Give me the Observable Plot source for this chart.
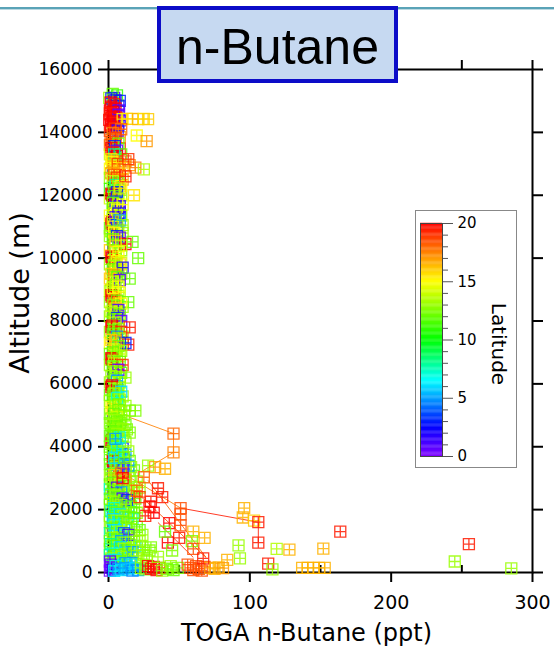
<!DOCTYPE html>
<html><head><meta charset="utf-8">
<script src="https://cdn.jsdelivr.net/npm/d3@7"></script>
<script src="https://cdn.jsdelivr.net/npm/@observablehq/plot@0.6"></script>
<style>
body{margin:0;background:#fff;}
#wrap{position:relative;width:554px;height:650px;overflow:hidden;background:#fff;}
#topline{position:absolute;left:0;top:7px;width:554px;height:2px;background:#5aa3b7;border-bottom:1px solid #bcd9e2;}
#title{position:absolute;left:157px;top:6px;width:241px;height:77px;box-sizing:border-box;border:4px solid #0c0cc8;background:#c6d9f1;font-family:"Liberation Sans",Arial,sans-serif;font-size:50px;text-align:center;line-height:75px;color:#000;white-space:nowrap;}
#legend{position:absolute;left:415px;top:210px;width:100px;height:256px;border:1px solid #888;background:#fff;}
#legend svg,#main svg{display:block;}
</style></head>
<body>
<div id="wrap">
  <div id="main"></div>
  <div id="topline"></div>
  <div id="title">n-Butane</div>
  <div id="legend"></div>
</div>
<script>
// ---- tick labels / texts ----
const titleText = "n-Butane";
const xLabel = "TOGA n-Butane (ppt)";
const yLabel = "Altitude (m)";
const legendLabel = "Latitude";
const xTicks = [0, 100, 200, 300];
const xMinorTicks = [50, 150, 250];
const xTopTicks = [0, 50, 100, 150, 200, 250, 300];
const yTicks = [0, 2000, 4000, 6000, 8000, 10000, 12000, 14000, 16000];
const latTicks = [0, 5, 10, 15, 20];
const latMinorTicks = [1,2,3,4,6,7,8,9,11,12,13,14,16,17,18,19];

// ---- data: [n-Butane ppt, altitude m, latitude deg] ----
const columnHigh = [
 [3,15220,12],[6,15180,11],[2,15080,3],[5,15020,2],[8,15000,3],
 [1.5,14950,20],[4,14900,19.5],[2,14820,20],[5,14760,20],[7.5,14700,0.8],[3,14650,20],[1,14600,19.5],[7,14560,0.5],[4,14500,20],[2,14460,19.8],[8,14380,1],[3,14350,20],[5,14300,19.5],[1.5,14250,20],
 [10,14420,15],[13,14430,15.5],[17,14430,16],[21,14420,16.5],[25,14430,15.5],[28,14420,16],[20,13900,15],[27,13720,17],
 [2,14180,20],[4.5,14120,19],[6.5,14060,1.5],[9,14100,18],[3,13980,17.5],[1.5,13760,18],[2.5,13700,18.5],[5,13820,19],[7,13640,12],[4.5,13560,3],
 [2,13500,20],[6,13420,0.5],[3,13360,19.5],[9,13300,12],[6,13250,20],[4,13300,8],
 [2,13150,15.5],[3,13100,16],[2.5,13050,15],[6.5,13000,19],[12,13080,18],[15,12960,17],[19,12880,17.5],[25,12820,13.5],[10,12860,16],[14,13150,19],
 [2,12700,17],[4,12650,18],[6,12560,19],[10,12500,17],[3,12450,14],[7,12400,12],[5,12330,8],[9,12300,15],[12,12600,19.5],
 [2,12050,20],[2.5,12000,20],[6,12100,3],[4,12150,12],[8,12220,16],[18,12000,15.5],[7,11900,13],[5,11800,3],[3,11760,12],[8,11650,1],[4,11600,14],[6,11540,15],[10,11700,15],
 [2,11100,20],[2.5,11150,20],[5,11300,0.5],[7,11420,2],[9,11350,13],[3,11250,14],[6,11050,3],[4,11000,15],[8,11200,5],[10,11050,13],
 [2,10850,13],[4,10800,15],[6,10700,3],[8,10650,0.5],[12,10450,20],[17,10520,12],[21,10000,12],[3,10600,12],[5,10550,16],[9,10400,14],
 [2,10050,20],[2.5,10000,20],[5,10150,13],[7,10200,15],[6,9900,15],[8,9800,16],[4,9750,13],[3,9650,12],[9,9850,14],[10,9700,2],
 [2,9500,16],[4,9450,17],[6,9400,12],[15,9350,12],[8,9300,1],[3,9250,14],[5,9150,13],[7,9100,15]
];
const columnHighFill = [
 [0.5,15100,13],[4,15100,1],[7,14850,2],[1,14700,20],[3,14550,20],[6,14450,19],[0.5,14400,20],[4,14250,20],[7,14200,2],[1,14050,19],
 [5,13950,18],[8,13850,17],[1,13600,18],[3,13450,20],[8,13480,19],[1,13300,14],[5,13150,12],[7,12800,16],[1,12850,15],[4,12900,17.5],
 [1,12550,13],[8,12650,18],[3,12250,7],[1,12200,11],[6,12000,5],[9,12000,13],[1,11900,14],[3,11500,13],[8,11450,3],[1,11350,15],
 [5,11150,12],[1,10950,12],[7,10900,14],[10,10800,13],[1,10700,13],[4,10400,13],[7,10500,12],[1,10250,16],[9,10250,13],[4,9950,15],
 [1,9800,13],[7,9600,13],[1,9350,16],[5,9650,16],[9,9500,13],[3,9050,15]
];
const columnMid = [
 [2,9000,13],[5,8950,16],[8,8900,14],[2,8820,20],[2.5,8780,20],[4,8700,17],[6,8650,12],[14,8600,12],[9,8550,15],[3,8500,13],
 [5,8400,16],[7,8350,1],[2,8300,14],[4,8250,13],[8,8200,12],[6,8100,3],[3,8050,12],[9,8000,0.5],[5,7950,14],
 [2,7800,20],[2.5,7850,20],[15,7800,19.5],[7,7750,13],[4,7700,12],[9,7650,19],[3,7600,12],[6,7500,5],[8,7450,13],
 [14,7250,19.5],[12,7300,3],[5,7350,17],[2,7400,16],[7,7200,12],[4,7100,14],[9,7050,13],[3,7000,12],
 [2,6820,20],[2.5,6780,20],[6,6900,13],[8,6700,12],[4,6650,14],[10,6600,19],[3,6550,12],[7,6450,0.5],[5,6400,13],[9,6350,12],
 [12,6200,13],[2,6250,13],[4,6150,12],[6,6100,5],[8,6050,13],
 [2,5900,20],[2.5,5950,20],[5,5850,13],[7,5800,12],[9,5750,6],[4,5700,13],[3,5600,12],[6,5550,7],[8,5500,13],
 [2,5250,15],[3,5200,15.5],[5,5300,13],[7,5350,12],[15,5150,12.5],[19,5150,12.5],[9,5100,13],[4,5050,12],[6,4950,14],[11,5000,12.5],
 [2,4900,12.5],[4,4850,13],[6,4800,12],[8,4750,12.5],[3,4700,13],[5,4650,12],[7,4600,12.5],[10,4550,13],[2,4500,12],[4,4450,12.5],[15,4450,12.5],[6,4400,13],[8,4300,7],[3,4350,12],[5,4250,5]
];
const columnMidFill = [
 [1,8950,14],[7,8800,13],[1,8600,13],[5,8550,16],[10,8450,13],[1,8150,13],[7,8050,14],[4,7900,13],[1,7650,13],[6,7650,14],
 [10,7500,13],[1,7300,15],[5,7150,16],[8,6950,14],[1,6950,12],[4,6850,13],[1,6600,13],[6,6550,13],[8,6250,14],[1,6050,13],
 [4,5950,12],[6,5700,13],[1,5650,12],[10,5600,13],[1,5450,13],[4,5500,12.5],[7,5150,13],[1,5050,12.5],[12,5300,13],[9,4850,12.5],
 [12,4700,12],[1,4750,12.5],[13,4550,12.5],[1,4350,12],[5,4500,12.5],[10,4350,12],[12,4150,13],[1,4000,12.5],[6,3950,7],[14,3850,13],
 [1,3750,12],[4,3650,6],[11,3650,12]
];
const columnLow = [
 [2,4180,20],[2.5,4220,20],[4,4100,12],[6,4050,13],[8,4000,6],[10,3950,3],[3,3900,12],[5,3850,13],[7,3800,12],[12,3750,5],[9,3700,7],
 [3,3560,20],[3.5,3540,20],[6,3600,12],[8,3500,6],[11,3450,4],[14,3400,5],[5,3350,13],[16,3350,13],[10,3300,0.5],[2,3300,12],
 [4,3100,16],[2,3000,13],[9,3150,18],[12,2950,17],[5,2900,13],[3,2850,12],[8,2800,14],[11,2750,12],[6,2700,1],[14,2650,13],[4,2600,12],[9,2550,5],
 [2,2500,12],[5,2450,13],[7,2400,12],[10,2350,0.5],[13,2300,3],[3,2250,13],[6,2200,12],[9,2150,13],[16,2100,12],[4,2050,7],[12,2000,13],
 [2,1950,8],[5,1900,12],[8,1850,6],[11,1800,13],[14,1750,12],[3,1700,6],[6,1650,13],[9,1600,12],[16,1550,13],[4,1500,7],[20,1450,12],
 [2,1400,12],[5,1350,6],[8,1300,13],[11,1250,4],[14,1200,1],[18,1150,12],[3,1100,13],[6,1050,12],[9,1000,5],[12,950,13],[22,1000,13],
 [2,900,8],[5,850,12],[8,800,6],[11,750,13],[14,700,12],[17,650,5],[20,700,13],[3,600,7],[6,550,12],[9,500,13],[25,550,13],[29,700,12.5],
 [2,450,13],[5,400,6],[8,350,12],[12,300,5],[16,250,6]
];
const columnLowFill = [
 [15,3550,12],[1,3450,12],[7,3400,13],[18,3250,12],[12,3200,13],[4,3250,5],[1,3100,13],[15,3050,12],[20,2900,13],[1,2800,12],
 [10,2650,8],[17,2600,13],[1,2650,7],[22,2700,13],[7,2550,12],[14,2450,13],[19,2350,12],[1,2350,12],[4,2300,6],[8,2250,0.5],
 [11,2100,7],[18,2050,13],[1,2150,12],[14,1950,6],[20,1900,13],[7,1950,12],[1,1800,12],[4,1750,13],[17,1700,7],[11,1550,6],
 [1,1600,13],[6,1450,12],[13,1400,13],[22,1350,12],[1,1250,8],[4,1200,12],[9,1150,7],[16,1050,13],[1,1000,12],[7,850,13],
 [14,900,12],[19,850,6],[24,800,12.5],[1,750,12],[4,650,13],[11,600,12],[16,500,7],[20,450,13],[1,550,8],[7,300,12],
 [13,400,7],[4,250,13],[10,220,6],[15,330,5],[19,280,13],[24,250,12.5],[27,400,13],
 [7,3000,20],[7.5,3050,20]
];
const surface = [
 [1,350,0.5],[1.5,250,0.5],[2,150,0.5],[1,60,0.3],[3,100,2],[4,50,6],[5,200,7],[7,120,5],[9,80,6],[12,150,5],[14,100,5.5],[17,60,4.5],[19,140,6],[21,80,5],
 [23,150,13],[26,100,12.5],
 [28,200,20],[30,120,19.5],[32,180,20],[34,80,20],[36,150,19.5],
 [38,60,13],[41,120,12.5],[44,200,13],[46,80,12],[49,150,12.5],
 [56,250,18.5],[58,150,18.5],[60,80,18.5],[62,200,18.5],[64,120,18.5],[66,60,18.5],[68,180,18.5],
 [72,150,17],[75,120,16.5],[78,160,16.5],[81,140,17],
 [137,150,16.5],[141,150,16.5],[145,150,16.5],[149,150,16.5],[153,150,16.5]
];
const spread = [
 [28,3400,13],[33,3350,17],[40,3300,16.5],[25,3030,18],[10,3000,20],[35,2680,19.5],[30,2250,19.5],[32,1900,20],[29,2100,20],[26,1800,19.5],
 [51,2050,18.5],[51,1850,18.5],[96,2050,16.5],[95,1750,16.5],[103,1650,16],[106,1600,19.5],[106,950,19.5],[43,1570,20],[51,1500,18.5],
 [60,1300,16.5],[68,1100,16.5],[59,1000,12.5],[42,950,20],[50,1100,19.5],[60,750,18.5],[67,450,19.5],[92,860,13],[93,450,13],[84,400,16.5],
 [119,750,13.5],[128,730,16.5],[152,760,16.5],[164,1300,19.5],[113,280,19.5],[116,100,13],[255,900,19.5],[245,350,13],[285,130,13],
 [46,4420,18],[46,3820,17.5],[24,1200,13],[30,800,12.5],[35,500,13],[40,1300,12],[45,700,12.5],[20,2600,18],[22,2400,19],[18,1900,12],[38,2400,19.5]
];
// flight-track segments: [x1, alt1, x2, alt2, latitude]
const trackSegments = [
 [14,4950,46,4420,17.5],[46,4420,46,3820,17.5],[46,3820,23,3200,17.5],
 [13,3080,51,2050,17.5],[51,2050,106,1600,19.5],[106,1600,106,950,19.5],
 [28,2930,69,480,18],[21,2500,69,480,18.5],[35,1590,60,480,19]
];
const latDomain = [0, 2.5, 6.5, 10, 15, 17.5, 20];
const latColors = ["#8000ff", "#0000ff", "#00ffff", "#00ff00", "#ffff00", "#ff8000", "#ff0000"];

// ---- build ----
const points = [...columnLowFill, ...columnLow, ...surface, ...columnMidFill, ...columnMid, ...columnHighFill, ...columnHigh, ...spread]
  .map(([x, alt, lat]) => ({x, alt, lat}));
const segs = trackSegments.map(([x1, y1, x2, y2, lat]) => ({x1, y1, x2, y2, lat}));

const boxPlus = {
  draw(ctx, size) {
    const h = Math.sqrt(size / Math.PI);
    ctx.moveTo(-h, -h); ctx.lineTo(h, -h); ctx.lineTo(h, h); ctx.lineTo(-h, h); ctx.closePath();
    ctx.moveTo(0, -h); ctx.lineTo(0, h);
    ctx.moveTo(-h, 0); ctx.lineTo(h, 0);
  }
};
const colorScale = {type: "linear", domain: latDomain, range: latColors};
const blank = () => "";
const plain = d => String(d);

const main = Plot.plot({
  width: 554, height: 650,
  marginLeft: 108, marginRight: 22, marginTop: 69, marginBottom: 78,
  style: {fontFamily: "'DejaVu Sans', sans-serif", background: "transparent", color: "#000"},
  x: {domain: [0, 300]},
  y: {domain: [0, 16000]},
  color: colorScale,
  marks: [
    Plot.frame({stroke: "#000", strokeWidth: 2}),
    Plot.axisY({ticks: yTicks, tickSize: 10, tickPadding: 6, fontSize: 17, strokeWidth: 2, tickFormat: plain, label: null}),
    Plot.axisY({anchor: "right", ticks: yTicks, tickSize: 10, tickFormat: blank, strokeWidth: 2, label: null}),
    Plot.axisX({ticks: xTicks, tickSize: 10, tickPadding: 13, fontSize: 19, strokeWidth: 2, tickFormat: plain, label: null}),
    Plot.axisX({ticks: xMinorTicks, tickSize: -7, tickFormat: blank, strokeWidth: 2, label: null}),
    Plot.axisX({anchor: "top", ticks: xTopTicks, tickSize: 10, tickFormat: blank, strokeWidth: 2, label: null}),
    Plot.link(segs, {x1: "x1", y1: "y1", x2: "x2", y2: "y2", stroke: "lat", strokeWidth: 1, strokeOpacity: 0.85}),
    Plot.dot(points, {x: "x", y: "alt", stroke: "lat", symbol: boxPlus, r: 5.5, fill: "none", strokeWidth: 1.3, strokeOpacity: 0.85}),
    Plot.text([yLabel], {frameAnchor: "left", textAnchor: "middle", lineAnchor: "middle", text: d => d, rotate: -90, dx: -88, dy: -28, fontSize: 27}),
    Plot.text([xLabel], {frameAnchor: "bottom", textAnchor: "middle", lineAnchor: "middle", text: d => d, dx: -14, dy: 61, fontSize: 24})
  ]
});
document.getElementById("main").appendChild(main);

const ramp = d3.range(0, 20, 0.1);
const legend = Plot.plot({
  width: 100, height: 256,
  marginLeft: 4, marginRight: 74, marginTop: 12, marginBottom: 11,
  style: {fontFamily: "'DejaVu Sans', sans-serif", background: "transparent", color: "#000"},
  y: {domain: [0, 20]},
  color: colorScale,
  marks: [
    Plot.rect(ramp, {y1: d => d, y2: d => d + 0.12, fill: d => d + 0.05}),
    Plot.frame({stroke: "#444", strokeWidth: 1}),
    Plot.axisY({anchor: "right", ticks: latTicks, tickSize: 10, tickPadding: 5, fontSize: 15, stroke: "#555", label: null}),
    Plot.axisY({anchor: "right", ticks: latMinorTicks, tickSize: 5, tickFormat: blank, stroke: "#555", label: null}),
    Plot.text([legendLabel], {frameAnchor: "middle", text: d => d, rotate: 90, dx: 67, dy: 4, fontSize: 20})
  ]
});
document.getElementById("legend").appendChild(legend);
</script>
</body></html>
